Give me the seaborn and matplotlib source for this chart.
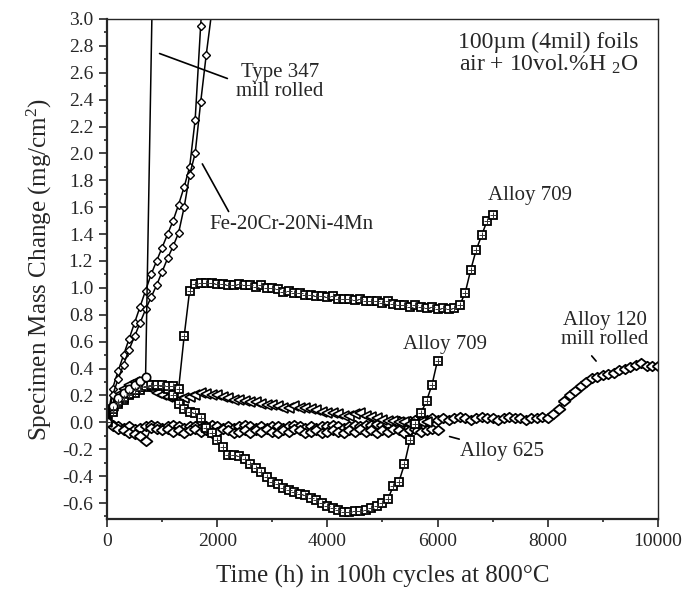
import numpy as np
import pandas as pd
import matplotlib
matplotlib.use("Agg")
import matplotlib.pyplot as plt
from matplotlib.ticker import MultipleLocator, FormatStrFormatter
from matplotlib import font_manager
import seaborn as sns

# time grid: 100h cycles
t_347 = [0, 100, 200, 300, 400, 500, 600, 700, 900]
y_347 = [0, 0.12, 0.18, 0.22, 0.25, 0.28, 0.31, 0.34, 5.0]

t_fe_a = [0, 100, 200, 300, 400, 500, 600, 700, 800, 900, 1000, 1100, 1200,
          1300, 1400, 1500, 1600, 1700, 1800]
y_fe_a = [0, 0.25, 0.38, 0.5, 0.62, 0.74, 0.86, 0.98, 1.1, 1.2, 1.3, 1.4, 1.5,
          1.62, 1.75, 1.9, 2.25, 2.95, 3.6]

t_fe_b = [0, 100, 200, 300, 400, 500, 600, 700, 800, 900, 1000, 1100, 1200,
          1300, 1400, 1500, 1600, 1700, 1800, 1900]
y_fe_b = [0, 0.2, 0.32, 0.43, 0.54, 0.64, 0.74, 0.84, 0.93, 1.02, 1.12, 1.22,
          1.31, 1.41, 1.6, 1.84, 2.0, 2.38, 2.73, 3.05]

t_709_hi = list(range(0, 7100, 100))
y_709_hi = [0, 0.1, 0.15, 0.18, 0.21, 0.24, 0.26, 0.27, 0.28, 0.28,
            0.28, 0.27, 0.27, 0.25, 0.64, 0.98, 1.03, 1.04, 1.04, 1.04,
            1.03, 1.03, 1.02, 1.02, 1.03, 1.02, 1.02, 1.01, 1.02, 1.0,
            1.0, 0.99, 0.97, 0.98, 0.96, 0.96, 0.95, 0.95, 0.94, 0.94,
            0.93, 0.94, 0.92, 0.92, 0.92, 0.91, 0.92, 0.9, 0.9, 0.9,
            0.89, 0.9, 0.88, 0.87, 0.87, 0.86, 0.87, 0.86, 0.85, 0.86,
            0.84, 0.85, 0.84, 0.85, 0.87, 0.96, 1.13, 1.28, 1.39, 1.5,
            1.54]

t_709_lo = list(range(0, 6100, 100))
y_709_lo = [0, 0.08, 0.14, 0.17, 0.2, 0.22, 0.24, 0.26, 0.27, 0.28,
            0.27, 0.25, 0.2, 0.14, 0.1, 0.08, 0.07, 0.03, -0.04, -0.08,
            -0.13, -0.18, -0.24, -0.24, -0.25, -0.27, -0.31, -0.34, -0.37, -0.41,
            -0.44, -0.46, -0.49, -0.5, -0.52, -0.53, -0.54, -0.56, -0.58, -0.6,
            -0.62, -0.64, -0.65, -0.67, -0.67, -0.66, -0.66, -0.65, -0.64, -0.62,
            -0.6, -0.57, -0.47, -0.44, -0.31, -0.13, -0.01, 0.07, 0.16, 0.28,
            0.46]

t_tri = list(range(0, 5900, 100))
y_tri = [0, 0.12, 0.2, 0.25, 0.28, 0.3, 0.31, 0.28, 0.25, 0.22,
         0.2, 0.19, 0.18, 0.17, 0.18, 0.19, 0.2, 0.22, 0.21, 0.2,
         0.2, 0.19, 0.18, 0.17, 0.17, 0.16, 0.15, 0.15, 0.14, 0.13,
         0.13, 0.12, 0.11, 0.11, 0.12, 0.11, 0.11, 0.1, 0.09, 0.08,
         0.07, 0.07, 0.06, 0.05, 0.05, 0.06, 0.07, 0.05, 0.04, 0.03,
         0.02, 0.01, 0.01, 0.0, 0.0, -0.01, -0.01, 0.0, 0.0]

t_625 = list(range(0, 6100, 100))
y_625 = [0, -0.03, -0.05, -0.06, -0.08, -0.09, -0.1, -0.14, -0.04, -0.05,
         -0.06, -0.05, -0.07, -0.06, -0.08, -0.06, -0.05, -0.07, -0.06, -0.08,
         -0.07, -0.05, -0.06, -0.08, -0.07, -0.06, -0.08, -0.06, -0.07, -0.05,
         -0.07, -0.08, -0.06, -0.07, -0.05, -0.06, -0.08, -0.07, -0.06, -0.08,
         -0.07, -0.06, -0.07, -0.08, -0.06, -0.07, -0.05, -0.07, -0.06, -0.08,
         -0.06, -0.07, -0.05, -0.06, -0.08, -0.06, -0.05, -0.07, -0.06, -0.05,
         -0.06]

t_120 = list(range(0, 10100, 100))
y_120 = [0, -0.02, -0.03, -0.04, -0.03, -0.05, -0.04, -0.03, -0.02, -0.03,
         -0.04, -0.03, -0.02, -0.03, -0.04, -0.03, -0.03, -0.04, -0.03, -0.02,
         -0.03, -0.04, -0.03, -0.04, -0.03, -0.02, -0.03, -0.04, -0.03, -0.04,
         -0.03, -0.03, -0.04, -0.03, -0.02, -0.03, -0.04, -0.03, -0.04, -0.03,
         -0.03, -0.02, -0.03, -0.04, -0.03, -0.02, -0.03, -0.02, -0.02, -0.01,
         -0.02, -0.01, 0.0, 0.01, 0.0, 0.01, 0.02, 0.01, 0.02, 0.03,
         0.02, 0.03, 0.02, 0.03, 0.04, 0.03, 0.02, 0.03, 0.04, 0.03,
         0.03, 0.02, 0.03, 0.04, 0.03, 0.03, 0.02, 0.03, 0.03, 0.04,
         0.03, 0.06, 0.1, 0.16, 0.2, 0.23, 0.27, 0.3, 0.33, 0.34,
         0.35, 0.36, 0.37, 0.39, 0.4, 0.41, 0.43, 0.44, 0.42, 0.42,
         0.42]

# make sure the Times-like face is really there
font_manager.findfont('Liberation Serif', fallback_to_default=False)

sns.set_style("ticks")
plt.rcParams['font.family'] = ['Liberation Serif', 'DejaVu Serif']
plt.rcParams['mathtext.default'] = 'regular'
plt.rcParams['axes.unicode_minus'] = False

fig = plt.figure(figsize=(6.86, 5.92), dpi=100)
ax = fig.add_axes([0.156, 0.123, 0.803, 0.845])

lw = 1.1
common = dict(estimator=None, sort=False, color='black', linewidth=lw,
              markerfacecolor='white', markeredgecolor='black', ax=ax, legend=False)

# wide open diamond like the original
wide_diamond = [(-1, 0), (0, 0.8), (1, 0), (0, -0.8), (-1, 0)]

# Alloy 120 and Alloy 625: open diamonds
sns.lineplot(x=t_120, y=y_120, marker=wide_diamond, markersize=8.5, markeredgewidth=1.3, **common)
sns.lineplot(x=t_625, y=y_625, marker=wide_diamond, markersize=8.5, markeredgewidth=1.3, **common)
# triangles
sns.lineplot(x=t_tri, y=y_tri, marker='<', markersize=7, markeredgewidth=1.2, **common)
# Alloy 709 curves: boxed squares
for tt, yy in [(t_709_lo, y_709_lo), (t_709_hi, y_709_hi)]:
    sns.lineplot(x=tt, y=yy, marker='s', markersize=6, markeredgewidth=1.3, **common)
    sns.scatterplot(x=tt, y=yy, marker='+', s=14, color='#333333', linewidth=0.7,
                    ax=ax, legend=False, zorder=3)
# Fe-20Cr-20Ni-4Mn: small diamonds
sns.lineplot(x=t_fe_a, y=y_fe_a, marker='D', markersize=3.6, markeredgewidth=1.0, **common)
sns.lineplot(x=t_fe_b, y=y_fe_b, marker='D', markersize=3.6, markeredgewidth=1.0, **common)
# Type 347: open circles
sns.lineplot(x=t_347, y=y_347, marker='o', markersize=6, markeredgewidth=1.2, **common)

ax.set_xlim(0, 10000)
ax.set_ylim(-0.72, 3.0)
ax.xaxis.set_major_locator(MultipleLocator(2000))
ax.xaxis.set_minor_locator(MultipleLocator(1000))
ax.yaxis.set_major_locator(MultipleLocator(0.2))
ax.yaxis.set_minor_locator(MultipleLocator(0.1))
ax.yaxis.set_major_formatter(FormatStrFormatter('%.1f'))
ax.tick_params(which='major', direction='out', length=6, width=1.2, labelsize=14,
               top=False, right=False, pad=4)
ax.tick_params(which='minor', direction='out', length=2, width=1.2, top=False, right=False)
for side in ['left', 'bottom']:
    ax.spines[side].set_linewidth(1.6)
for side in ['top', 'right']:
    ax.spines[side].set_linewidth(1.0)

ax.set_xlabel('Time (h) in 100h cycles at 800°C', fontsize=18, labelpad=11)
ax.set_ylabel('Specimen Mass Change (mg/cm$^2$)', fontsize=18, labelpad=6)

fs = 15
ax.text(3140, 2.53, 'Type 347\nmill rolled', fontsize=fs, ha='center', va='center',
        linespacing=1.0)
ax.annotate('', xy=(907, 2.75), xytext=(2232, 2.55),
            arrowprops=dict(arrowstyle='-', lw=1.2, color='black'))
ax.text(1851, 1.47, 'Fe-20Cr-20Ni-4Mn', fontsize=fs, ha='left', va='center')
ax.annotate('', xy=(1706, 1.94), xytext=(2232, 1.55),
            arrowprops=dict(arrowstyle='-', lw=1.2, color='black'))
ax.text(6915, 1.69, 'Alloy 709', fontsize=fs, ha='left', va='center')
ax.text(5372, 0.58, 'Alloy 709', fontsize=fs, ha='left', va='center')
ax.text(6407, -0.22, 'Alloy 625', fontsize=fs, ha='left', va='center')
ax.annotate('', xy=(6170, -0.10), xytext=(6443, -0.13),
            arrowprops=dict(arrowstyle='-', lw=1.2, color='black'))
ax.text(9038, 0.685, 'Alloy 120\nmill rolled', fontsize=fs, ha='center', va='center',
        linespacing=1.0)
ax.annotate('', xy=(8911, 0.44), xytext=(8766, 0.51),
            arrowprops=dict(arrowstyle='-', lw=1.2, color='black'))
ax.text(9655, 2.74, '100µm (4mil) foils\nair + 10vol.%H $_2$O', fontsize=17,
        ha='right', va='center', linespacing=1.0)

fig.savefig('out.png', dpi=100)
